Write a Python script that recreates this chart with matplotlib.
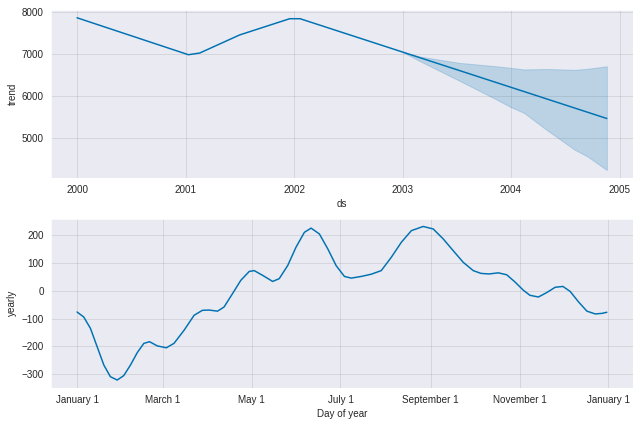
import numpy as np
import pandas as pd
import matplotlib
matplotlib.use("Agg")
import matplotlib.pyplot as plt
import matplotlib.dates as mdates
from matplotlib.ticker import FuncFormatter, MultipleLocator
import seaborn as sns

# ---- data ----
trend_dates = ["2000-01-01", "2001-01-10", "2001-02-17", "2001-07-01", "2001-12-17",
               "2002-01-21", "2003-01-01", "2004-01-01", "2004-11-19"]
trend_vals = [7865, 6985, 7025, 7455, 7843, 7843, 7049, 6209, 5465]

band_dates = ["2003-01-01", "2003-03-01", "2003-07-13", "2003-10-30", "2004-01-01",
              "2004-02-14", "2004-05-01", "2004-08-03", "2004-09-15", "2004-11-19"]
band_upper = [7049, 6940, 6790, 6720, 6672, 6635, 6645, 6625, 6650, 6710]
band_lower = [7049, 6830, 6360, 5970, 5735, 5600, 5190, 4720, 4560, 4237]

yearly_days = [0, 4.6, 9.2, 13.8, 18.4, 22.9, 27.6, 32.1, 36.7, 41.4, 45.9, 49.8,
               55.1, 61.3, 66.6, 73.5, 80.4, 86.1, 90.7, 96.5, 101, 106.8, 112.5,
               118.3, 121.7, 127.5, 134.4, 138.9, 144.7, 150.4, 156.2, 160.8, 166.5,
               172.3, 178, 183.7, 188.4, 195.2, 202.1, 209, 215.9, 222.8, 229.7,
               237.8, 244.7, 251.6, 258.4, 265.3, 272.2, 277.5, 283, 289.5, 295.2,
               300.9, 306.7, 311.2, 317, 322.7, 328.5, 333.8, 338.8, 344.6, 350.3,
               356, 360.6, 364]
yearly_vals = [-76, -94, -135, -201, -267, -309, -321, -305, -267, -222, -189, -183,
               -198, -205, -189, -142, -88, -70, -69, -73, -58, -10, 38,
               70, 73, 56, 34, 44, 91, 157, 211, 226, 205,
               151, 91, 52, 46, 52, 60, 73, 121, 175, 217,
               232, 223, 187, 145, 103, 73, 63, 61, 65, 58,
               32, 2, -16, -22, -6, 13, 16, -2, -40, -73,
               -83, -81, -77]

# ---- plot ----
sns.set_style("darkgrid")
plt.rcParams["font.family"] = ["Liberation Sans", "DejaVu Sans"]
color = "#0072B2"
fig = plt.figure(figsize=(9, 5.9625))
ax1 = fig.add_axes([0.079, 0.581, 0.9106, 0.395])
ax2 = fig.add_axes([0.079, 0.0856, 0.9106, 0.3984])

td = pd.to_datetime(trend_dates)
bd = pd.to_datetime(band_dates)
ax1.plot(td, trend_vals, ls="-", c=color, lw=1.5)
ax1.fill_between(bd, band_lower, band_upper, color=color, alpha=0.2)
ax1.xaxis.set_major_locator(mdates.YearLocator())
ax1.xaxis.set_major_formatter(mdates.DateFormatter("%Y"))
ax1.yaxis.set_major_locator(MultipleLocator(1000))
ax1.grid(True, which="major", c="gray", ls="-", lw=1, alpha=0.2)
ax1.set_xlabel("ds")
ax1.set_ylabel("trend")

yd = pd.Timestamp("2017-01-01") + pd.to_timedelta(yearly_days, unit="D")
ax2.plot(yd, yearly_vals, ls="-", c=color, lw=1.5)
ax2.xaxis.set_major_locator(mdates.MonthLocator(bymonth=range(1, 13, 2)))
ax2.xaxis.set_major_formatter(FuncFormatter(
    lambda x, pos=None: "{dt:%B} {dt.day}".format(dt=mdates.num2date(x))))
ax2.grid(True, which="major", c="gray", ls="-", lw=1, alpha=0.2)
ax2.set_xlabel("Day of year")
ax2.set_ylabel("yearly")

fig.savefig("out.png", dpi=640 / 9)
